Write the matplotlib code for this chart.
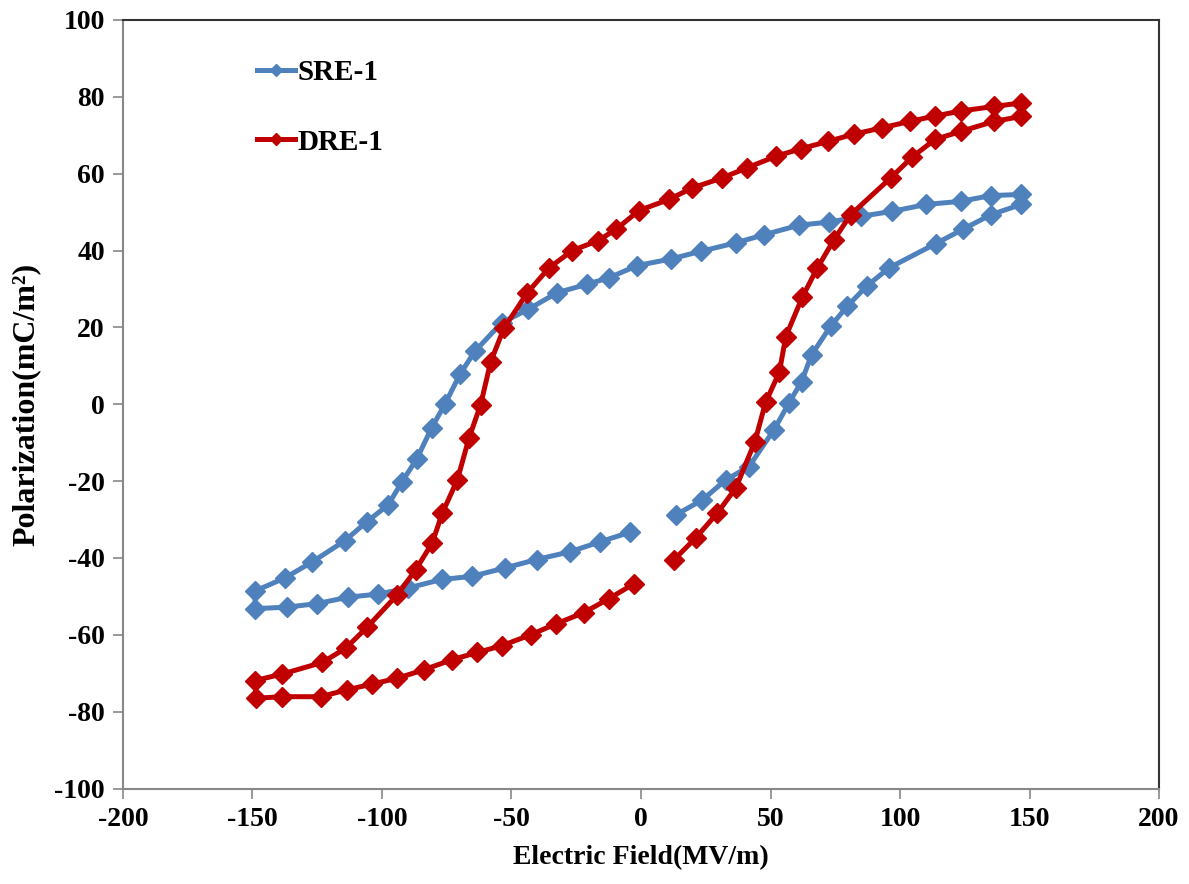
import matplotlib
matplotlib.use("Agg")
import matplotlib.pyplot as plt

plt.rcParams['font.family'] = ['Liberation Serif', 'DejaVu Serif']
plt.rcParams['font.weight'] = 'bold'
plt.rcParams['axes.unicode_minus'] = False

# SRE-1 loop: rising branch, upper branch (descending), lower branch
sre_x = [13.4, 23.7, 32.7, 41.7, 51.4, 57.1, 62.0, 65.9, 73.2, 79.6, 87.4, 95.8, 113.8, 124.5, 135.0, 146.8,
         146.8, 135.0, 123.4, 110.1, 97.0, 84.8, 72.6, 61.0, 47.5, 36.6, 23.1, 11.5, -1.4, -12.4, -21.0,
         -32.5, -43.5, -53.8, -64.1, -69.9, -75.7, -80.8, -86.6, -92.4, -97.6, -105.9, -114.3, -127.1,
         -137.5, -149.0,
         -149.0, -136.8, -125.2, -113.0, -101.4, -89.8, -77.0, -65.4, -52.5, -40.3, -27.4, -15.8, -4.2]
sre_y = [-28.8, -24.9, -19.7, -16.2, -6.6, 0.3, 5.9, 12.9, 20.3, 25.5, 30.9, 35.5, 41.8, 45.6, 49.3, 52.0,
         54.6, 54.3, 52.8, 52.0, 50.2, 48.9, 47.4, 46.6, 44.1, 42.0, 39.8, 37.8, 36.1, 32.9, 31.2,
         29.0, 24.7, 21.2, 13.8, 7.8, 0.0, -6.1, -14.3, -20.3, -26.2, -30.6, -35.5, -41.1,
         -45.2, -48.6,
         -53.2, -52.8, -51.9, -50.2, -49.4, -47.8, -45.6, -44.8, -42.6, -40.4, -38.4, -35.8, -33.3]

# DRE-1 loop
dre_x = [12.7, 21.1, 29.5, 36.6, 44.0, 48.1, 53.4, 55.9, 62.3, 68.1, 74.5, 80.9, 96.4, 104.8, 113.5, 123.4,
         136.3, 146.8,
         146.8, 136.3, 123.4, 113.5, 103.7, 92.9, 82.2, 72.3, 61.7, 52.0, 40.8, 31.4, 19.8, 10.8, -0.8,
         -9.5, -16.5, -26.5, -35.5, -43.9, -52.9, -58.0, -61.9, -66.4, -70.9, -76.7, -80.6, -87.0, -94.1,
         -105.7, -114.0, -123.1, -138.5, -149.0,
         -148.5, -138.5, -123.7, -113.4, -103.7, -94.1, -83.8, -73.1, -63.2, -53.6, -42.6, -33.0, -22.0,
         -12.4, -2.7]
dre_y = [-40.5, -34.8, -28.3, -21.8, -9.7, 0.5, 8.3, 17.6, 27.9, 35.5, 42.8, 49.3, 58.9, 64.4, 68.9, 71.0,
         73.6, 74.9,
         78.4, 77.5, 76.3, 75.0, 73.6, 71.9, 70.3, 68.4, 66.5, 64.5, 61.5, 58.9, 56.3, 53.3, 50.4,
         45.6, 42.6, 40.0, 35.5, 29.0, 19.8, 11.1, -0.1, -8.8, -19.7, -28.3, -36.1, -43.1, -49.6,
         -58.0, -63.5, -67.2, -70.2, -71.9,
         -76.5, -76.1, -76.1, -74.3, -72.8, -71.3, -69.1, -66.5, -64.6, -62.8, -60.0, -57.2, -54.2,
         -50.6, -46.7]

xticks = [-200, -150, -100, -50, 0, 50, 100, 150, 200]
yticks = [-100, -80, -60, -40, -20, 0, 20, 40, 60, 80, 100]

fig = plt.figure(figsize=(11.89, 8.84), dpi=100)
ax = fig.add_axes([0.1034, 0.108, 0.8714, 0.8694])

ax.plot(sre_x, sre_y, color='#4F81BD', lw=3.6, marker='D', ms=10.5, label='SRE-1')
ax.plot(dre_x, dre_y, color='#C00000', lw=3.6, marker='D', ms=10.5, label='DRE-1')

ax.set_xlim(-200, 200)
ax.set_ylim(-100, 100)
ax.set_xticks(xticks)
ax.set_yticks(yticks)
ax.tick_params(direction='out', length=7, width=1.2, color='#888888', labelsize=20, pad=6)

for s in ['left', 'bottom']:
    ax.spines[s].set_color('#888888')
    ax.spines[s].set_linewidth(1.5)
for s in ['top', 'right']:
    ax.spines[s].set_color('#333333')
    ax.spines[s].set_linewidth(1.5)

ax.set_xlabel('Electric Field(MV/m)', fontsize=20, fontweight='bold', labelpad=10)
ax.set_ylabel('Polarization(mC/m²)', fontsize=23, fontweight='bold', labelpad=10)

leg = ax.legend(loc='upper left', bbox_to_anchor=(0.104, 0.983), frameon=False, fontsize=21,
                handlelength=1.3, handletextpad=0.1, labelspacing=1.45, markerscale=0.55)

fig.savefig('out.png', dpi=100)
